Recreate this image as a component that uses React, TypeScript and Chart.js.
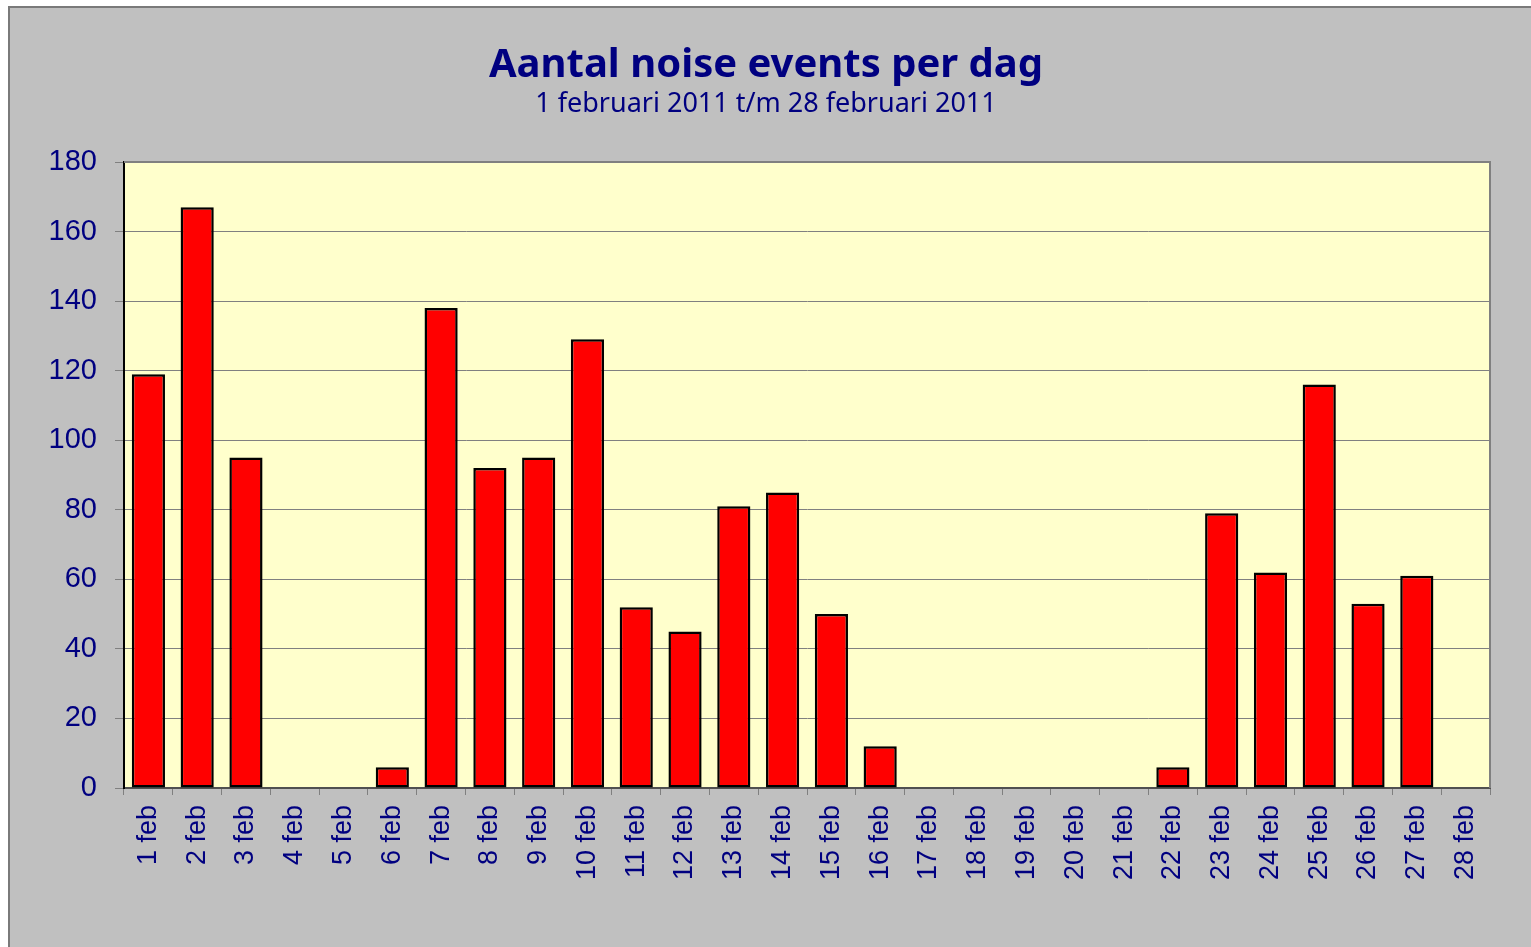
import React, { useEffect, useRef } from "react";
import { Chart, registerables } from "chart.js";

Chart.register(...registerables);

const categories = [
  "1 feb", "2 feb", "3 feb", "4 feb", "5 feb", "6 feb", "7 feb", "8 feb", "9 feb", "10 feb",
  "11 feb", "12 feb", "13 feb", "14 feb", "15 feb", "16 feb", "17 feb", "18 feb", "19 feb", "20 feb",
  "21 feb", "22 feb", "23 feb", "24 feb", "25 feb", "26 feb", "27 feb", "28 feb",
];
const noiseEvents = [
  119, 167, 95, 0, 0, 6, 138, 92, 95, 129,
  52, 45, 81, 85, 50, 12, 0, 0, 0, 0,
  0, 6, 79, 62, 116, 53, 61, 0,
];
const yMin = 0;
const yMax = 180;
const yStep = 20;
const titleText = "Aantal noise events per dag";
const subtitleText = "1 februari 2011 t/m 28 februari 2011";

const NAVY = "#000080";

const framePlugin = {
  id: "framePlugin",
  beforeDraw(chart: any) {
    const ctx = chart.ctx;
    const { width, height, chartArea } = chart;
    ctx.save();
    ctx.fillStyle = "#ffffff";
    ctx.fillRect(0, 0, width, height);
    ctx.fillStyle = "#c0c0c0";
    ctx.fillRect(9, 7, width - 9, height - 7);
    ctx.strokeStyle = "#7a7a7a";
    ctx.lineWidth = 2;
    ctx.beginPath();
    ctx.moveTo(9, height);
    ctx.lineTo(9, 7);
    ctx.lineTo(width, 7);
    ctx.stroke();
    ctx.fillStyle = "#ffffcc";
    ctx.fillRect(chartArea.left, chartArea.top, chartArea.right - chartArea.left, chartArea.bottom - chartArea.top);
    ctx.restore();
  },
  beforeDatasetsDraw(chart: any) {
    const ctx = chart.ctx;
    const { chartArea } = chart;
    ctx.save();
    ctx.strokeStyle = "#808080";
    ctx.lineWidth = 2;
    ctx.beginPath();
    ctx.moveTo(chartArea.left, chartArea.top);
    ctx.lineTo(chartArea.right, chartArea.top);
    ctx.lineTo(chartArea.right, chartArea.bottom);
    ctx.stroke();
    ctx.restore();
  },
  afterDraw(chart: any) {
    const ctx = chart.ctx;
    ctx.save();
    ctx.fillStyle = NAVY;
    ctx.textAlign = "center";
    ctx.textBaseline = "alphabetic";
    ctx.font = "bold 40px 'Noto Sans'";
    ctx.fillText(titleText, 766, 77);
    ctx.font = "27px 'Noto Sans'";
    ctx.fillText(subtitleText, 766, 112);
    ctx.restore();
  },
};

export default function App() {
  const canvasRef = useRef<HTMLCanvasElement | null>(null);

  useEffect(() => {
    document.body.style.margin = "0";
    const canvas = canvasRef.current;
    if (!canvas) return;
    const chart = new Chart(canvas, {
      type: "bar",
      data: {
        labels: categories,
        datasets: [
          {
            data: noiseEvents,
            backgroundColor: "#ff0000",
            borderColor: "#000000",
            borderWidth: 2.5,
            borderSkipped: false,
            barPercentage: 0.68,
            categoryPercentage: 1,
          },
        ],
      },
      options: {
        responsive: false,
        animation: false,
        devicePixelRatio: 1,
        layout: { padding: { left: 0, top: 162, right: 41, bottom: 0 } },
        plugins: {
          legend: { display: false },
          title: { display: false },
          tooltip: { enabled: false },
        },
        scales: {
          x: {
            offset: true,
            grid: {
              offset: true,
              drawOnChartArea: false,
              drawTicks: true,
              tickLength: 7,
              color: "#808080",
              lineWidth: 1,
            },
            border: { display: true, color: "#505050", width: 2 },
            ticks: {
              autoSkip: false,
              maxRotation: 90,
              minRotation: 90,
              padding: 10,
              color: NAVY,
              font: { family: "'Liberation Sans', Arial, sans-serif", size: 27 },
            },
            afterFit(scale: any) {
              scale.height = 159;
            },
          },
          y: {
            min: yMin,
            max: yMax,
            ticks: {
              stepSize: yStep,
              padding: 18,
              color: NAVY,
              font: { family: "'Liberation Sans', Arial, sans-serif", size: 29 },
            },
            grid: {
              color: "#808080",
              lineWidth: 1,
              tickLength: 9,
              drawTicks: true,
            },
            border: { display: true, color: "#000000", width: 2 },
            afterFit(scale: any) {
              scale.width = 124;
            },
          },
        },
      },
      plugins: [framePlugin],
    });
    return () => chart.destroy();
  }, []);

  return (
    <canvas
      ref={canvasRef}
      width={1531}
      height={947}
      style={{ position: "absolute", left: 0, top: 0, width: 1531, height: 947, display: "block" }}
    />
  );
}
